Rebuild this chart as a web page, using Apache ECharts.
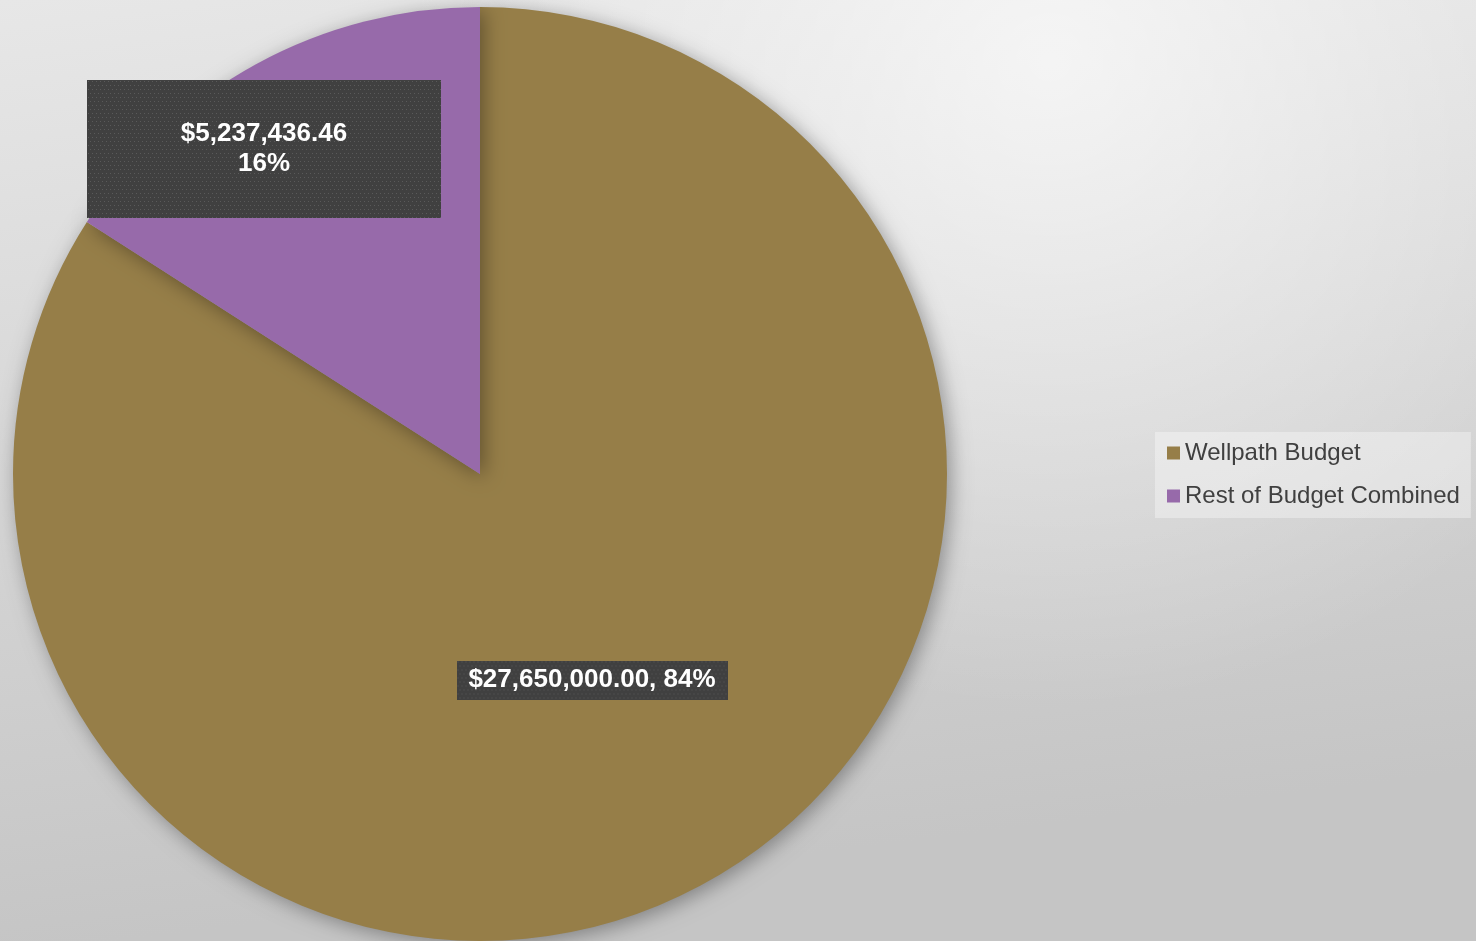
<!DOCTYPE html>
<html><head><meta charset="utf-8">
<script src="https://cdn.jsdelivr.net/npm/echarts@6/dist/echarts.min.js"></script>
<style>html,body{margin:0;padding:0;width:1476px;height:941px;overflow:hidden}#c{width:1476px;height:941px}</style>
</head><body><div id="c"></div>
<script>
const categories = ['Wellpath Budget', 'Rest of Budget Combined'];
const values = [27650000.00, 5237436.46];
const colors = ['#967e48', '#976aaa'];

function money(v){ return '$' + v.toLocaleString('en-US',{minimumFractionDigits:2, maximumFractionDigits:2}); }

// dotted label background with a soft drop shadow baked in
function dotPattern(w,h){
  const pad=6;
  const c=document.createElement('canvas'); c.width=w; c.height=h;
  const g=c.getContext('2d'); g.fillStyle='#404040'; g.fillRect(0,0,w,h);
  g.fillStyle='#5a5a5a';
  for(let y=1;y<h;y+=4){ const off=(Math.floor(y/4)%2)?3:1; for(let x=off;x<w;x+=4){ g.fillRect(x,y,1,1);} }
  return c;
}

const chart = echarts.init(document.getElementById('c'));
const total = values.reduce((a,b)=>a+b,0);
const W=1476,H=941;
chart.setOption({
  backgroundColor:'#d8d8d8',
  animation:false,
  graphic:[
    {type:'rect', z:-10, silent:true, shape:{x:0,y:0,width:W,height:H},
     style:{fill:{type:'linear', x:0, y:0, x2:0.08, y2:1, colorStops:[{offset:0,color:'#e7e7e7'},{offset:1,color:'#c5c5c5'}]}}},
    {type:'rect', z:-9, silent:true, shape:{x:0,y:0,width:W,height:H},
     style:{fill:{type:'radial', x:1050, y:60, r:650, global:true, colorStops:[{offset:0,color:'rgba(255,255,255,0.65)'},{offset:0.5,color:'rgba(255,255,255,0.32)'},{offset:1,color:'rgba(255,255,255,0)'}]}}}
  ],
  legend:{
    orient:'vertical', left:1155, top:432,
    backgroundColor:'rgba(255,255,255,0.35)',
    padding:[9,11,10,12], itemGap:19, itemWidth:13, itemHeight:13, icon:'rect',
    textStyle:{fontFamily:'Liberation Sans, Arial', fontSize:24, color:'#404040', lineHeight:24}
  },
  series:[{
    type:'pie', center:[480,474], radius:467, startAngle:90, clockwise:true,
    data: categories.map((n,i)=>({name:n, value:values[i], itemStyle:{color:colors[i]}})),
    itemStyle:{shadowBlur:20, shadowColor:'rgba(0,0,0,0.35)', shadowOffsetX:4, shadowOffsetY:4},
    emphasis:{disabled:true},
    labelLine:{show:false},
    label:{
      show:true, position:'inside',
      fontFamily:'Liberation Sans, Arial', fontWeight:'bold', fontSize:26, color:'#ffffff',
      formatter:p=>{
        const pct=Math.round(p.value/total*100)+'%';
        return p.dataIndex===0 ? money(p.value)+', '+pct : money(p.value)+'\n'+pct;
      },
      shadowBlur:6, shadowOffsetX:3, shadowOffsetY:3, shadowColor:'rgba(0,0,0,0.45)'
    },
    labelLayout: p=>{
      if(p.dataIndex===0) return {x:592, y:680, align:'center', verticalAlign:'middle'};
      return {x:264, y:149, align:'center', verticalAlign:'middle'};
    }
  }]
});
chart.setOption({series:[{data: categories.map((n,i)=>({name:n, value:values[i], itemStyle:{color:colors[i]},
  label: i===0 ? {width:271, height:39, lineHeight:39, align:'center', backgroundColor:{image:dotPattern(271,39)}}
               : {width:354, height:138, lineHeight:30, align:'center', backgroundColor:{image:dotPattern(354,138)}}
}))}]});
</script></body></html>
